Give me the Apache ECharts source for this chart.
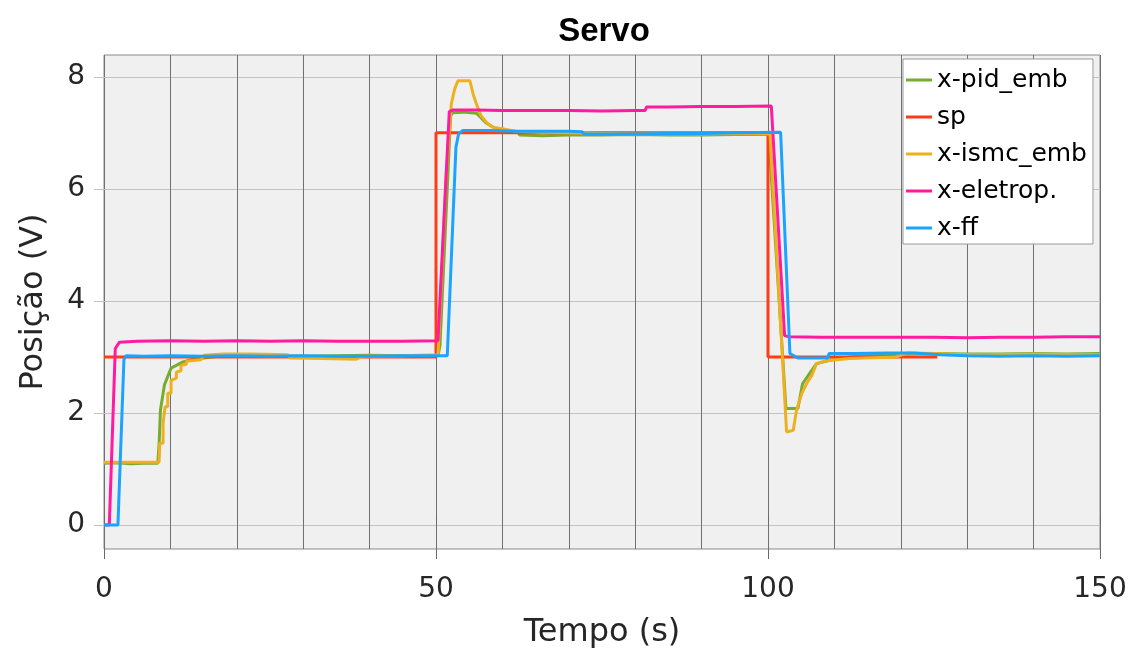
<!DOCTYPE html>
<html>
<head>
<meta charset="utf-8">
<script src="https://cdn.jsdelivr.net/npm/echarts@6/dist/echarts.min.js"></script>
<style>
  html, body { margin: 0; padding: 0; background: #ffffff; }
  #chart { width: 1131px; height: 652px; }
</style>
</head>
<body>
<div id="chart"></div>
<script>
// Position responses (V) against time (s), [time, value] pairs
const pidEmb = [
  [0,1.10],[2,1.11],[4,1.09],[6,1.10],[8.1,1.10],[8.3,1.45],[8.5,2.05],[9.1,2.50],[10.1,2.80],
  [11.9,2.91],[13.1,2.95],[15.6,2.99],[18,3.02],[22,3.03],[26,3.02],[30,3.01],[35,3.02],[40,3.03],
  [45,3.02],[50.3,3.02],[50.6,3.20],[52.2,7.30],[52.5,7.36],[54,7.37],[56.1,7.35],[57.5,7.18],
  [59.6,7.03],[62.3,7.02],[62.6,6.96],[66,6.95],[70,6.96],[75,6.96],[80,6.97],[85,6.96],[90,6.96],
  [95,6.97],[100.1,6.97],[102.7,2.08],[104.5,2.08],[105.2,2.52],[106.3,2.71],[107.3,2.88],
  [109.3,2.94],[112.3,3.00],[116,3.03],[120,3.05],[125,3.06],[130,3.05],[135,3.05],[140,3.06],
  [145,3.05],[150,3.06]
];
const setpoint = [
  [0,3],[50,3],[50,7],[100,7],[100,3],[125.5,3]
];
const ismcEmb = [
  [0,1.12],[4,1.12],[8.3,1.12],[8.4,1.46],[8.9,1.46],[8.9,1.82],[9.2,1.82],[9.2,2.11],[9.6,2.11],
  [9.6,2.35],[10.1,2.35],[10.1,2.58],[10.9,2.62],[10.9,2.73],[11.6,2.75],[11.6,2.85],[12.4,2.87],
  [12.4,2.92],[14.6,2.95],[15.1,3.03],[18,3.05],[22,3.05],[27.7,3.04],[28,2.98],[33,2.97],
  [38,2.96],[39,3.01],[45,3.02],[50.3,3.04],[51.5,6.20],[52.3,7.51],[52.8,7.78],[53.3,7.93],
  [55.1,7.93],[55.6,7.69],[56.1,7.51],[56.8,7.30],[57.8,7.16],[58.6,7.10],[60.1,7.07],[62,7.03],
  [66,7.01],[70,7.00],[75,6.99],[80,6.98],[85,6.99],[90,6.98],[95,6.99],[100.3,6.98],[102.8,1.66],
  [103.8,1.69],[104.3,2.05],[105.1,2.35],[105.8,2.52],[106.6,2.67],[107.3,2.88],[108.8,2.93],
  [112.3,2.97],[119.4,3.00],[120.9,3.07],[125,3.06],[130,3.04],[135,3.04],[140,3.05],[145,3.04],
  [150,3.04]
];
const eletrop = [
  [0,0],[0.8,0],[1.7,3.15],[2.3,3.26],[5,3.28],[10,3.29],[15,3.28],[20,3.29],[25,3.28],[30,3.29],
  [35,3.28],[40,3.28],[45,3.28],[50.3,3.29],[52.0,7.38],[52.6,7.41],[56,7.41],[60,7.40],[65,7.40],
  [70,7.40],[75,7.39],[80,7.40],[81.5,7.40],[81.7,7.46],[85,7.46],[90,7.47],[95,7.47],[100.5,7.48],
  [102.5,3.38],[103.2,3.36],[108,3.35],[115,3.35],[120,3.35],[125,3.35],[130,3.34],[135,3.35],
  [140,3.35],[145,3.36],[150,3.36]
];
const feedForward = [
  [0,0],[2.1,0],[3.0,2.95],[3.3,3.02],[6,3.01],[10,3.02],[15,3.01],[20,3.02],[25,3.01],[30,3.02],
  [35,3.01],[40,3.01],[45,3.02],[51.7,3.02],[53.0,6.74],[53.4,6.98],[54,7.04],[58,7.04],[62,7.03],
  [66,7.03],[70,7.03],[72,7.02],[72.3,6.98],[76,6.98],[80,6.98],[85,6.99],[90,6.99],[95,7.00],
  [101.9,7.01],[103.3,3.06],[104.5,2.98],[109,2.98],[109.2,3.06],[113,3.06],[118,3.07],[122,3.07],
  [126,3.04],[130,3.02],[135,3.01],[140,3.02],[145,3.01],[150,3.02]
];

const seriesNames = ['x-pid_emb', 'sp', 'x-ismc_emb', 'x-eletrop.', 'x-ff'];
const seriesColors = ['#77ac30', '#ff3c14', '#edb120', '#ff1aa0', '#1aa3ff'];
const seriesData = [pidEmb, setpoint, ismcEmb, eletrop, feedForward];

const xMajorTicks = [0, 50, 100, 150];
const yTicks = [0, 2, 4, 6, 8];

const FONT = 'DejaVu Sans';
const chart = echarts.init(document.getElementById('chart'), null, { renderer: 'canvas' });

const xBase = { type: 'value', min: 0, max: 150, gridIndex: 0 };
const yBase = { type: 'value', min: -0.43, max: 8.39, gridIndex: 0 };

chart.setOption({
  animation: false,
  backgroundColor: '#ffffff',
  title: {
    text: 'Servo',
    left: 599,
    top: 10,
    textAlign: 'center',
    textStyle: { fontFamily: 'Liberation Sans', fontWeight: 'bold', fontSize: 33, color: '#000000' }
  },
  grid: {
    left: 104, right: 31, top: 55, bottom: 103,
    outerBoundsMode: 'none',
    show: true, backgroundColor: '#f0f0f0', borderColor: '#8a8a8a', borderWidth: 1
  },
  legend: {
    data: seriesNames,
    orient: 'vertical',
    left: 903, top: 59,
    padding: [7, 6, 2, 3],
    itemGap: 9,
    itemWidth: 26, itemHeight: 3,
    itemTextGap: 5,
    icon: 'rect',
    backgroundColor: '#ffffff',
    borderColor: '#9a9a9a', borderWidth: 1, borderRadius: 0,
    textStyle: { fontFamily: FONT, fontSize: 25, color: '#000000', lineHeight: 28 }
  },
  xAxis: [
    Object.assign({}, xBase, {
      position: 'bottom', interval: 10,
      axisLine: { show: false }, axisTick: { show: false },
      splitLine: { show: true, lineStyle: { color: '#707070', width: 1 } },
      axisLabel: {
        interval: 0, margin: 27, fontFamily: FONT, fontSize: 28, color: '#262626',
        formatter: v => (xMajorTicks.indexOf(v) >= 0 ? String(v) : '')
      },
      name: 'Tempo (s)', nameLocation: 'middle', nameGap: 68,
      nameTextStyle: { fontFamily: FONT, fontSize: 32, color: '#262626' }
    }),
    Object.assign({}, xBase, {
      position: 'top',
      axisLine: { show: false }, splitLine: { show: false }, axisLabel: { show: false },
      axisTick: { show: true, customValues: xMajorTicks, length: 10, lineStyle: { color: '#6a6a6a', width: 1 } }
    }),
    Object.assign({}, xBase, {
      position: 'bottom',
      axisLine: { show: false }, splitLine: { show: false }, axisLabel: { show: false },
      axisTick: { show: true, customValues: xMajorTicks, length: 10, lineStyle: { color: '#6a6a6a', width: 1 } }
    })
  ],
  yAxis: [
    Object.assign({}, yBase, {
      position: 'left',
      axisLine: { show: false },
      axisTick: { show: true, customValues: yTicks, length: 10, lineStyle: { color: '#c2c2c2', width: 1 } },
      axisLabel: { customValues: yTicks, margin: 19, fontFamily: FONT, fontSize: 28, color: '#262626' },
      splitLine: { show: true, lineStyle: { color: '#c2c2c2', width: 1 } },
      name: 'Posição (V)', nameLocation: 'middle', nameGap: 54,
      nameTextStyle: { fontFamily: FONT, fontSize: 32, color: '#262626' }
    }),
    Object.assign({}, yBase, {
      position: 'right',
      axisLine: { show: false }, splitLine: { show: false }, axisLabel: { show: false },
      axisTick: { show: true, customValues: yTicks, length: 10, lineStyle: { color: '#c2c2c2', width: 1 } }
    })
  ],
  series: seriesNames.map((name, i) => ({
    name: name,
    type: 'line',
    xAxisIndex: 0, yAxisIndex: 0,
    data: seriesData[i],
    showSymbol: false, symbol: 'none',
    lineStyle: { color: seriesColors[i], width: 3 },
    itemStyle: { color: seriesColors[i] },
    emphasis: { disabled: true }
  }))
});
</script>
</body>
</html>
